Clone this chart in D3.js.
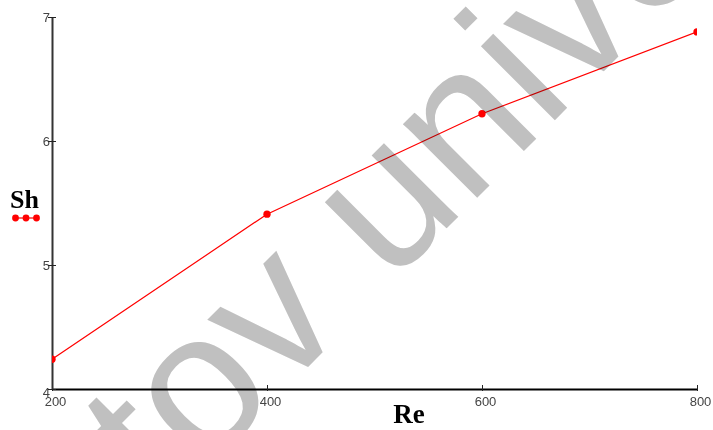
<!DOCTYPE html>
<html>
<head>
<meta charset="utf-8">
<script src="https://cdn.jsdelivr.net/npm/d3@7"></script>
<style>
  html, body { margin: 0; padding: 0; background: #fff; }
  svg { display: block; }
</style>
</head>
<body>
<svg id="chart" width="713" height="430"></svg>
<script>
// Sherwood number versus Reynolds number
const reValues = [200, 400, 600, 800];
const shValues = [4.24, 5.41, 6.22, 6.88];
const xTicks = [200, 400, 600, 800];
const yTicks = [4, 5, 6, 7];
const watermarkText = "tov university";

const W = 713, H = 430;
const plot = { left: 52, right: 697, top: 17, bottom: 389 };

const svg = d3.select("#chart");

const x = d3.scaleLinear().domain([200, 800]).range([plot.left, plot.right]);
const y = d3.scaleLinear().domain([4, 7]).range([plot.bottom, plot.top]);

// clip region for the series
svg.append("defs").append("clipPath").attr("id", "plotClip")
  .append("rect")
  .attr("x", plot.left).attr("y", plot.top - 10)
  .attr("width", plot.right - plot.left).attr("height", plot.bottom - plot.top + 10);

// x axis
const xAxis = svg.append("g")
  .attr("transform", `translate(0,${plot.bottom})`)
  .call(d3.axisBottom(x).tickValues(xTicks).tickSize(0).tickPadding(0).tickFormat(d3.format("d")));
xAxis.select(".domain").attr("stroke", "#000").attr("stroke-width", 2);
xAxis.selectAll(".tick line").remove();
xAxis.selectAll(".tick").append("line")
  .attr("y1", -4).attr("y2", 2).attr("stroke", "#222").attr("stroke-width", 1);
xAxis.selectAll(".tick text")
  .attr("dy", 0).attr("y", 17).attr("dx", 3)
  .attr("fill", "#444")
  .style("font-family", "'Liberation Sans', Arial, sans-serif")
  .style("font-size", "13px");

// y axis
const yAxis = svg.append("g")
  .attr("transform", `translate(${plot.left},0)`)
  .call(d3.axisLeft(y).tickValues(yTicks).tickSize(0).tickPadding(0).tickFormat(d3.format("d")));
yAxis.select(".domain").attr("stroke", "#333").attr("stroke-width", 2);
yAxis.selectAll(".tick line").remove();
yAxis.selectAll(".tick").append("line")
  .attr("x1", -4).attr("x2", 4).attr("stroke", "#222").attr("stroke-width", 1);
yAxis.selectAll(".tick text")
  .attr("x", -2).attr("dy", "0.35em")
  .attr("fill", "#444")
  .style("font-family", "'Liberation Sans', Arial, sans-serif")
  .style("font-size", "13px");
yAxis.selectAll(".tick").filter(d => d === 4).select("text").attr("dy", "0.6em");

// series
const pts = reValues.map((r, i) => ({ re: r, sh: shValues[i] }));
const series = svg.append("g").attr("clip-path", "url(#plotClip)");
series.append("path")
  .datum(pts)
  .attr("fill", "none")
  .attr("stroke", "#ff0000")
  .attr("stroke-width", 1.2)
  .attr("d", d3.line().x(d => x(d.re)).y(d => y(d.sh)));

const marker = d3.symbol().type(d3.symbolCircle).size(42);
series.selectAll("path.pt")
  .data(pts).join("path")
  .attr("class", "pt")
  .attr("d", marker)
  .attr("fill", "#ff0000")
  .attr("transform", d => `translate(${x(d.re)},${y(d.sh)})`);

// axis titles
const titleFont = "'Liberation Serif', 'Times New Roman', serif";
svg.append("text")
  .attr("x", 10).attr("y", 208)
  .style("font-family", titleFont).style("font-weight", "bold").style("font-size", "26px")
  .attr("fill", "#000").text("Sh");

svg.append("text")
  .attr("x", 409).attr("y", 423).attr("text-anchor", "middle")
  .style("font-family", titleFont).style("font-weight", "bold").style("font-size", "27px")
  .attr("fill", "#000").text("Re");

// legend key under the y title
const key = svg.append("g");
key.append("line")
  .attr("x1", 13).attr("x2", 39).attr("y1", 218).attr("y2", 218)
  .attr("stroke", "#ff0000").attr("stroke-width", 1.2);
key.selectAll("path").data([15.5, 26, 36.5]).join("path")
  .attr("d", d3.symbol().type(d3.symbolCircle).size(36))
  .attr("fill", "#ff0000")
  .attr("transform", d => `translate(${d},218)`);

// watermark
svg.append("text")
  .attr("transform", "translate(164,511) rotate(-45)")
  .style("font-family", "'Liberation Sans', Arial, sans-serif")
  .style("font-size", "198px")
  .style("mix-blend-mode", "multiply")
  .attr("fill", "#c0c0c0")
  .text(watermarkText);
</script>
</body>
</html>
